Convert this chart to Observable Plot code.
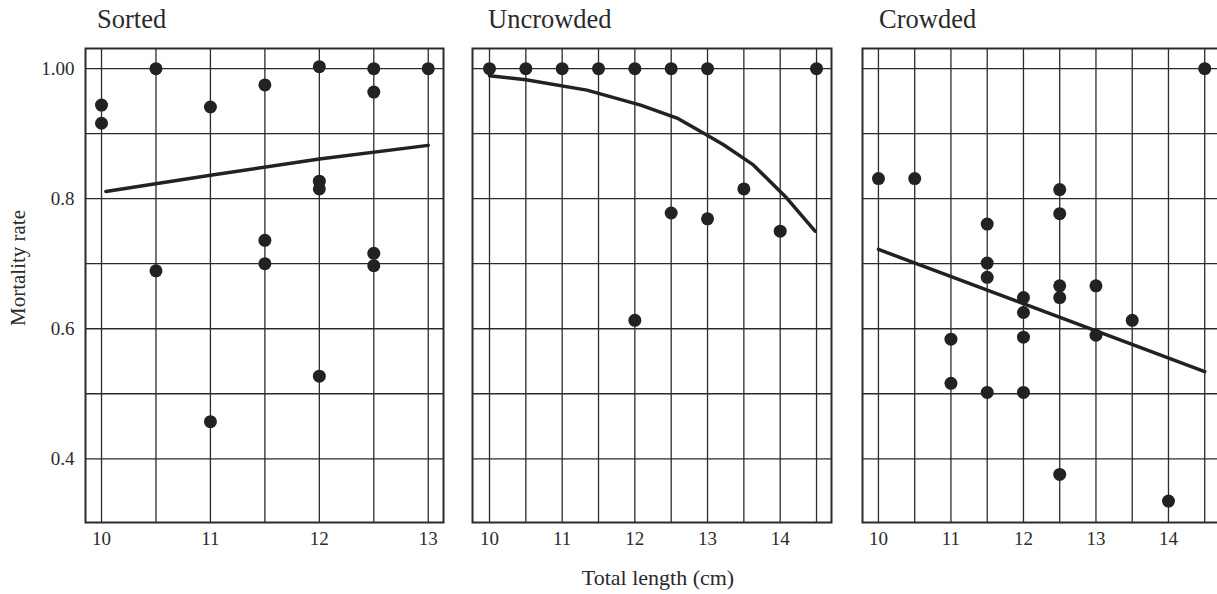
<!DOCTYPE html>
<html><head><meta charset="utf-8">
<script src="https://cdn.jsdelivr.net/npm/d3@7"></script>
<script src="https://cdn.jsdelivr.net/npm/@observablehq/plot@0.6"></script>
<style>
html,body{margin:0;padding:0;background:#fff;overflow:hidden}
#wrap{position:relative;width:1217px;height:594px;font-family:"Liberation Serif","Times New Roman",serif;color:#2a2a2a}
.panel{position:absolute;top:39px}
.title{position:absolute;top:6px;font-size:26.5px;line-height:1;white-space:nowrap}
.ylab{position:absolute;left:18px;top:268px;font-size:21px;line-height:1;white-space:nowrap;transform:translate(-50%,-50%) rotate(-90deg)}
.xlab{position:absolute;left:658px;top:578px;font-size:22px;line-height:1;white-space:nowrap;transform:translate(-50%,-50%)}
</style>
</head><body>
<div id="wrap"></div>
<script>
// ---- Data ----
const panelTitles = ["Sorted", "Uncrowded", "Crowded"];
const yAxisTitle = "Mortality rate";
const xAxisTitle = "Total length (cm)";

const sortedLength    = [10, 10, 10.5, 10.5, 11, 11, 11.5, 11.5, 11.5, 12, 12, 12, 12, 12.5, 12.5, 12.5, 12.5, 13];
const sortedMortality = [0.944, 0.916, 1.00, 0.689, 0.941, 0.457, 0.975, 0.736, 0.700, 1.003, 0.827, 0.815, 0.527, 1.00, 0.964, 0.716, 0.697, 1.00];
const sortedFitLength    = [10.04, 11, 12, 13];
const sortedFitMortality = [0.811, 0.836, 0.861, 0.882];

const uncrowdedLength    = [10, 10.5, 11, 11.5, 12, 12.5, 13, 14.5, 12, 12.5, 13, 13.5, 14];
const uncrowdedMortality = [1.00, 1.00, 1.00, 1.00, 1.00, 1.00, 1.00, 1.00, 0.613, 0.778, 0.769, 0.815, 0.750];
const uncrowdedFitLength    = [10.0, 10.5, 11.34, 12.08, 12.58, 12.99, 13.22, 13.63, 14.09, 14.48];
const uncrowdedFitMortality = [0.989, 0.983, 0.967, 0.944, 0.924, 0.898, 0.883, 0.852, 0.801, 0.750];

const crowdedLength    = [10, 10.5, 11, 11, 11.5, 11.5, 11.5, 11.5, 12, 12, 12, 12, 12.5, 12.5, 12.5, 12.5, 12.5, 13, 13, 13.5, 14, 14.5];
const crowdedMortality = [0.831, 0.831, 0.584, 0.516, 0.761, 0.701, 0.679, 0.502, 0.648, 0.625, 0.587, 0.502, 0.814, 0.777, 0.666, 0.648, 0.376, 0.666, 0.590, 0.613, 0.335, 1.00];
const crowdedFitLength    = [10, 14.5];
const crowdedFitMortality = [0.722, 0.534];

const yLabelTicks = [0.4, 0.6, 0.8, 1.0];
const yGridTicks  = [0.4, 0.5, 0.6, 0.7, 0.8, 0.9, 1.0];
const sortedGridTicks = [10, 10.5, 11, 11.5, 12, 12.5, 13];
const sortedLabelTicks = [10, 11, 12, 13];
const wideGridTicks = [10, 10.5, 11, 11.5, 12, 12.5, 13, 13.5, 14, 14.5];
const wideLabelTicks = [10, 11, 12, 13, 14];

// ---- Layout ----
const yDomain = [0.302, 1.031];
const panels = [
  {title: panelTitles[0], lx: sortedLength, ly: sortedMortality, fx: sortedFitLength, fy: sortedFitMortality,
   domain: [9.853, 13.14], grid: sortedGridTicks, labels: sortedLabelTicks, showY: true,
   left: 0, width: 453, marginLeft: 85, frameW: 358, titleX: 97},
  {title: panelTitles[1], lx: uncrowdedLength, ly: uncrowdedMortality, fx: uncrowdedFitLength, fy: uncrowdedFitMortality,
   domain: [9.766, 14.706], grid: wideGridTicks, labels: wideLabelTicks, showY: false,
   left: 462, width: 379, marginLeft: 10, frameW: 359, titleX: 488},
  {title: panelTitles[2], lx: crowdedLength, ly: crowdedMortality, fx: crowdedFitLength, fy: crowdedFitMortality,
   domain: [9.78, 14.69], grid: wideGridTicks, labels: wideLabelTicks, showY: false,
   left: 852, width: 376, marginLeft: 10, frameW: 356, titleX: 879}
];

const wrap = document.getElementById("wrap");
const ink = "#2b2b2b";

for (const p of panels) {
  const pts = p.lx.map((x, i) => ({x, y: p.ly[i]}));
  const fit = p.fx.map((x, i) => ({x, y: p.fy[i]}));
  const marks = [
    Plot.gridX({ticks: p.grid, stroke: ink, strokeOpacity: 1, strokeWidth: 1.3}),
    Plot.gridY({ticks: yGridTicks, stroke: ink, strokeOpacity: 1, strokeWidth: 1.3}),
    Plot.frame({stroke: ink, strokeWidth: 2}),
    Plot.axisX({ticks: p.labels, tickSize: 0, tickPadding: 9, label: null, fill: ink, tickFormat: d => String(d)}),
    Plot.line(fit, {x: "x", y: "y", stroke: "#222", strokeWidth: 3.5}),
    Plot.dot(pts, {x: "x", y: "y", r: 6.5, fill: "#222", stroke: "none"})
  ];
  if (p.showY) marks.push(Plot.axisY({ticks: yLabelTicks, tickSize: 0, tickPadding: 11, label: null, fill: ink,
    tickFormat: d => d === 1 ? "1.00" : d.toFixed(1)}));
  const chart = Plot.plot({
    width: p.width, height: 515,
    marginLeft: p.marginLeft, marginRight: p.width - p.marginLeft - p.frameW,
    marginTop: 9, marginBottom: 32,
    x: {domain: p.domain, axis: null},
    y: {domain: yDomain, axis: p.showY ? undefined : null},
    style: {fontFamily: '"Liberation Serif","Times New Roman",serif', fontSize: "19px", background: "transparent", overflow: "visible", maxWidth: "none"},
    marks
  });
  const holder = document.createElement("div");
  holder.className = "panel";
  holder.style.left = p.left + "px";
  holder.appendChild(chart);
  wrap.appendChild(holder);
  const t = document.createElement("div");
  t.className = "title";
  t.style.left = p.titleX + "px";
  t.textContent = p.title;
  wrap.appendChild(t);
}
const yl = document.createElement("div"); yl.className = "ylab"; yl.textContent = yAxisTitle; wrap.appendChild(yl);
const xl = document.createElement("div"); xl.className = "xlab"; xl.textContent = xAxisTitle; wrap.appendChild(xl);
</script>
</body></html>
